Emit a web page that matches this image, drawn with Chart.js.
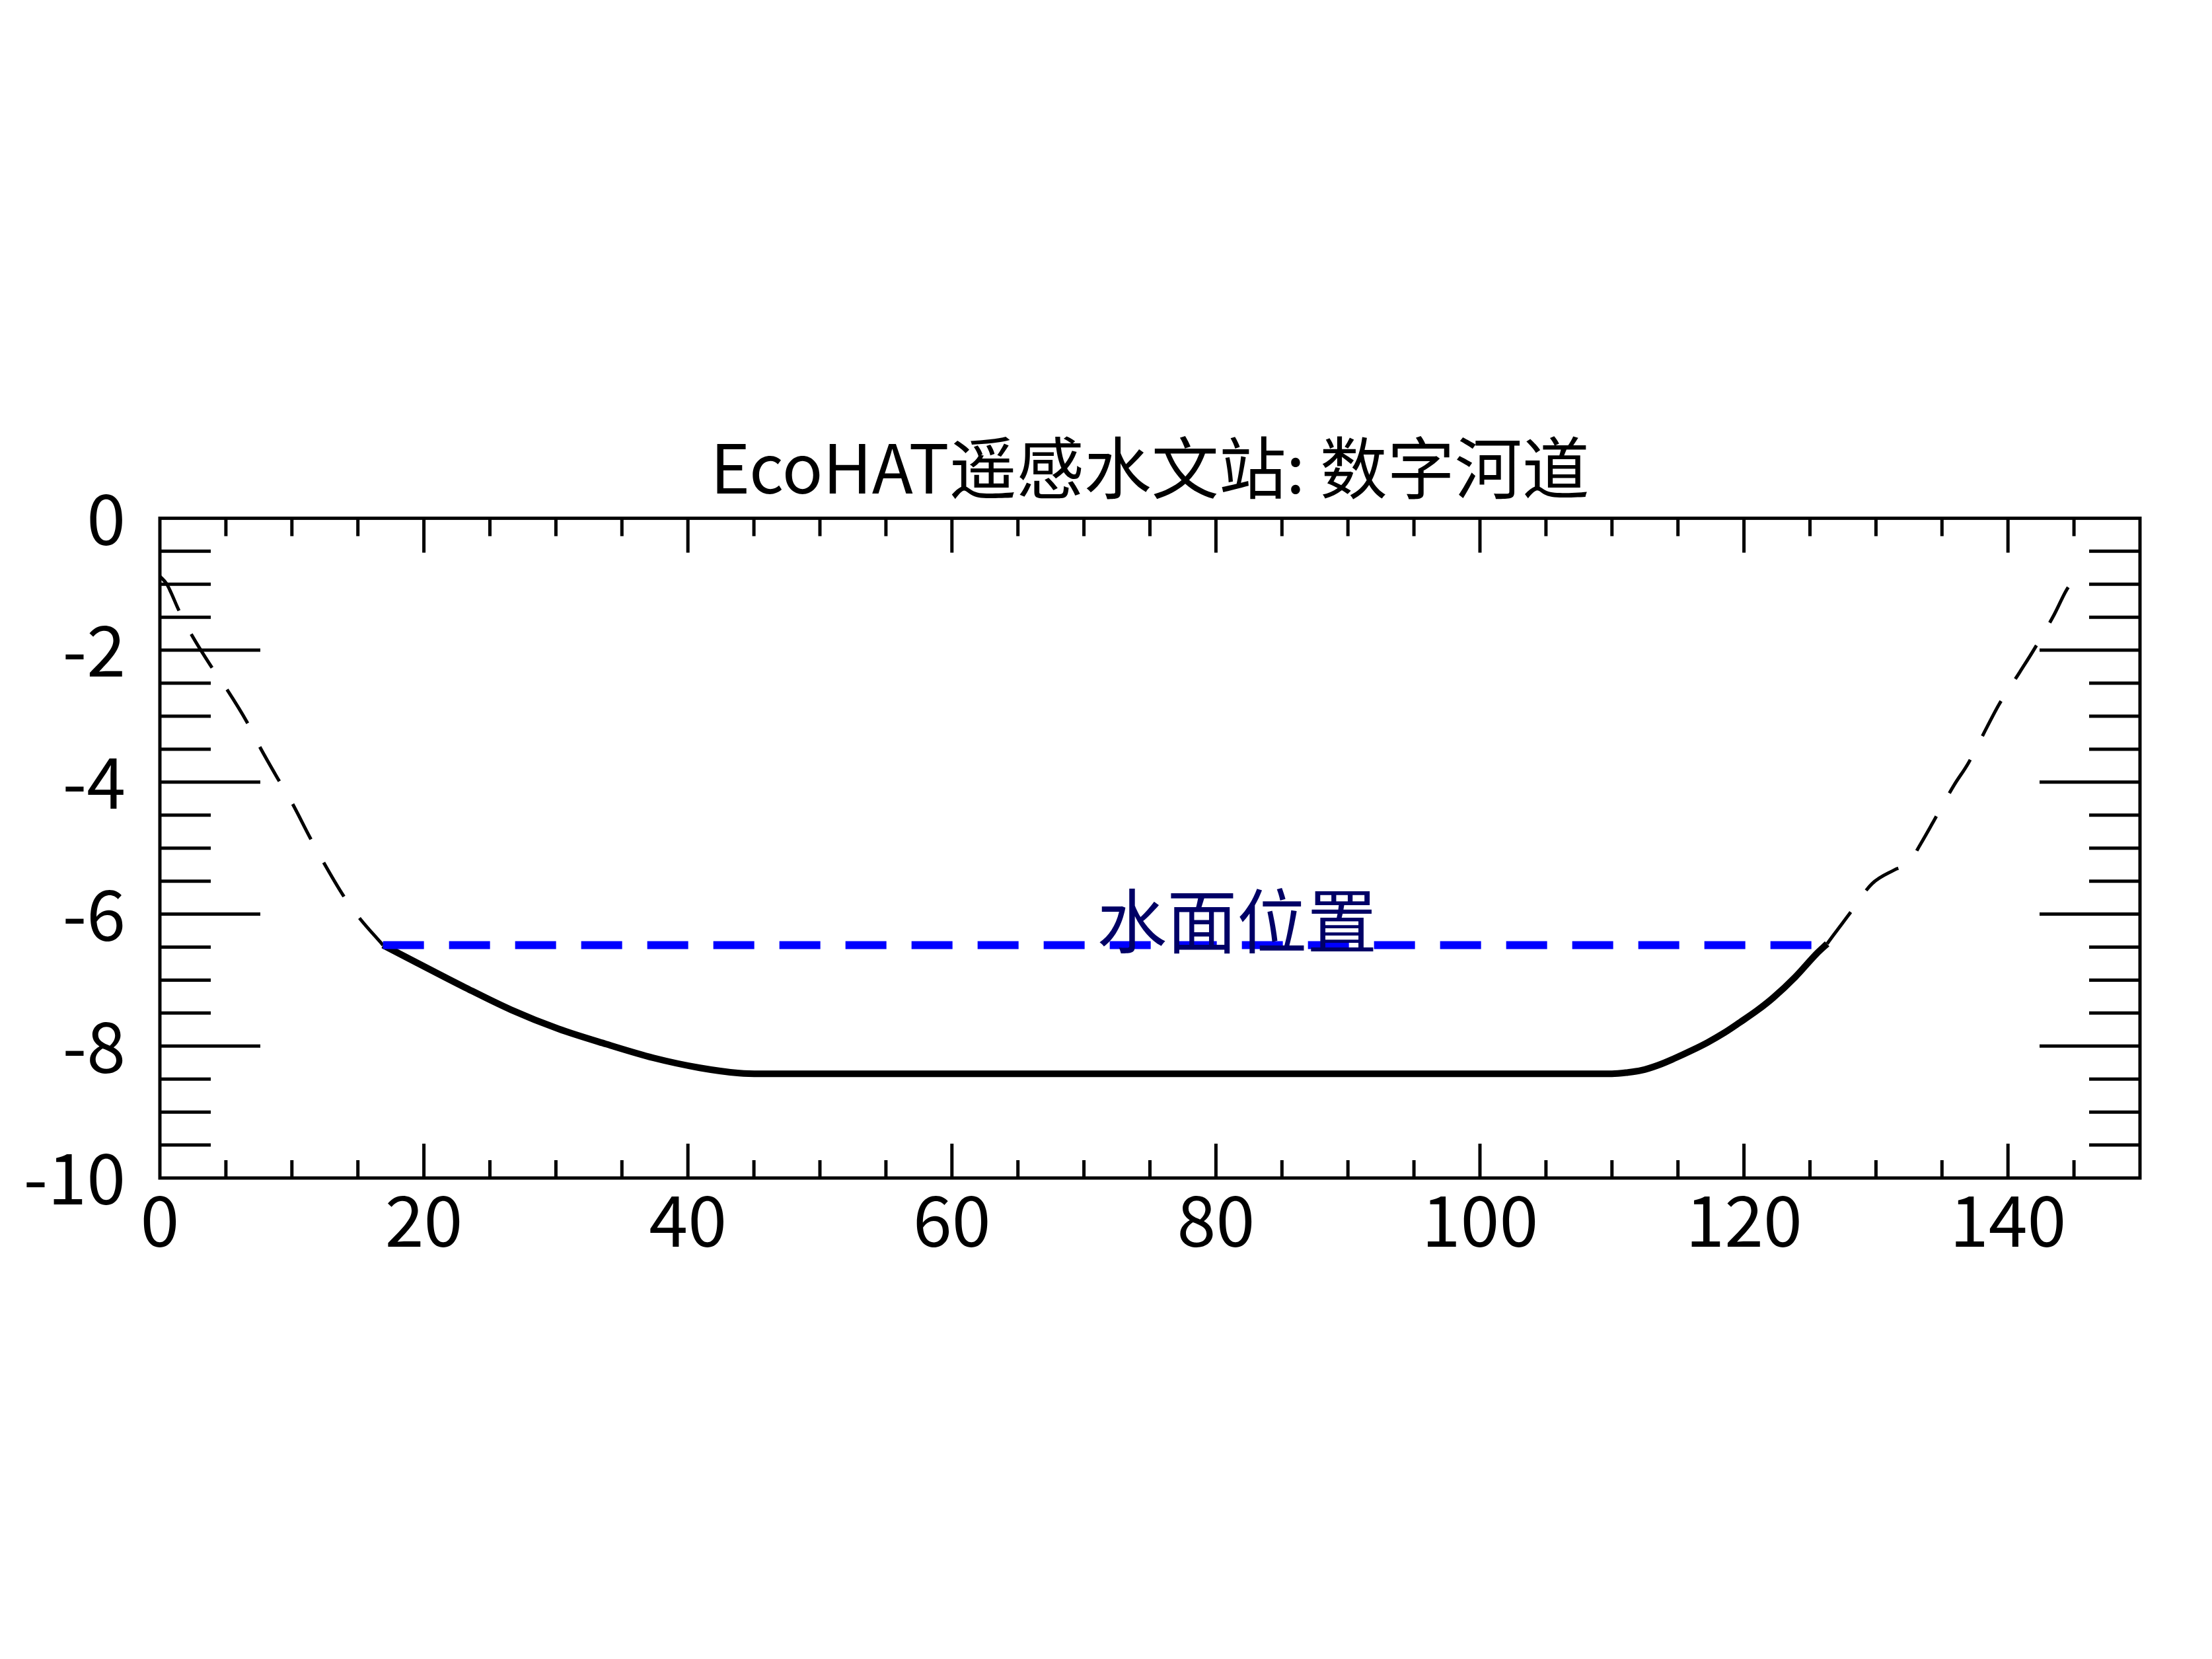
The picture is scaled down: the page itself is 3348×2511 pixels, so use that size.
<!DOCTYPE html>
<html>
<head>
<meta charset="utf-8">
<script src="https://cdn.jsdelivr.net/npm/chart.js@4.4.0/dist/chart.umd.min.js"></script>
<style>
  html, body { margin: 0; padding: 0; background: #fff; }
  canvas { display: block; }
</style>
</head>
<body>
<canvas id="profile" width="3348" height="2511"></canvas>
<script>
// 河道断面: 起点距 / 高程
const leftBankX = [0, 0.5, 0.85, 1.4, 2.3, 3.9, 5.0, 6.6, 7.5, 9.0, 10.0, 11.4, 12.3, 13.9, 15.0, 16.9];
const leftBankY = [-0.88, -0.99, -1.13, -1.38, -1.73, -2.25, -2.57, -3.09, -3.44, -3.97, -4.31, -4.85, -5.18, -5.72, -6.03, -6.47];

const channelX = [16.9, 19.5, 23.1, 26.6, 30.2, 33.8, 37.4, 40.9, 43.9, 45.5, 110.0, 111.2, 112.2, 113.5, 114.7, 116.0, 117.2, 118.5, 119.7, 121.0, 122.2, 123.9, 125.5, 126.3];
const channelY = [-6.47, -6.74, -7.11, -7.45, -7.74, -7.97, -8.18, -8.33, -8.41, -8.42, -8.42, -8.40, -8.37, -8.29, -8.19, -8.07, -7.95, -7.80, -7.64, -7.46, -7.27, -6.95, -6.60, -6.45];

const rightBankX = [126.3, 126.7, 127.9, 129.7, 131.4, 132.5, 133.4, 134.4, 135.9, 137.0, 138.4, 139.3, 140.9, 142.0, 143.5, 144.4, 145.2];
const rightBankY = [-6.45, -6.34, -6.02, -5.54, -5.33, -5.22, -4.93, -4.58, -4.05, -3.71, -3.17, -2.83, -2.33, -1.98, -1.46, -1.10, -0.86];

// 水面
const waterX = [16.9, 126.3];
const waterLevel = -6.47;
const waterLabel = '水面位置';
const waterLabelAt = [81.6, -6.1];

const titleText = 'EcoHAT遥感水文站: 数字河道';
const xTickLabels = [0, 20, 40, 60, 80, 100, 120, 140];
const yTickLabels = [0, -2, -4, -6, -8, -10];

function toPoints(xs, ys) {
  return xs.map((x, i) => ({ x: x, y: ys[i] }));
}

Chart.defaults.font.family = '"Noto Sans CJK SC", "Noto Sans", sans-serif';
Chart.defaults.color = '#000';

// 框线和内向刻度
const frameTicks = {
  id: 'frameTicks',
  beforeDatasetsDraw(chart) {
    const ctx = chart.ctx;
    const a = chart.chartArea;
    const xs = chart.scales.x, ys = chart.scales.y;
    ctx.save();
    ctx.strokeStyle = '#000';
    ctx.lineWidth = 5;
    ctx.beginPath();
    xs.ticks.forEach(t => {
      if (t.value <= xs.min || t.value >= xs.max) return;
      const px = xs.getPixelForValue(t.value);
      const len = xTickLabels.includes(t.value) ? 52 : 27;
      ctx.moveTo(px, a.bottom); ctx.lineTo(px, a.bottom - len);
      ctx.moveTo(px, a.top); ctx.lineTo(px, a.top + len);
    });
    ys.ticks.forEach(t => {
      if (t.value <= ys.min || t.value >= ys.max) return;
      const py = ys.getPixelForValue(t.value);
      const len = yTickLabels.includes(t.value) ? 152 : 77;
      ctx.moveTo(a.left, py); ctx.lineTo(a.left + len, py);
      ctx.moveTo(a.right, py); ctx.lineTo(a.right - len, py);
    });
    ctx.stroke();
    ctx.strokeRect(a.left, a.top, a.right - a.left, a.bottom - a.top);
    ctx.restore();
  },
  afterDatasetsDraw(chart) {
    const ctx = chart.ctx;
    const xs = chart.scales.x, ys = chart.scales.y;
    ctx.save();
    ctx.font = '106px "Noto Sans CJK SC", sans-serif';
    ctx.fillStyle = '#000066';
    ctx.textAlign = 'center';
    ctx.textBaseline = 'middle';
    ctx.fillText(waterLabel, xs.getPixelForValue(waterLabelAt[0]), ys.getPixelForValue(waterLabelAt[1]));
    ctx.restore();
  }
};

new Chart(document.getElementById('profile').getContext('2d'), {
  type: 'line',
  data: {
    datasets: [
      {
        label: '水面',
        data: toPoints(waterX, [waterLevel, waterLevel]),
        borderColor: '#0000ff',
        borderWidth: 12,
        borderDash: [62, 38],
        pointRadius: 0
      },
      {
        label: '水下断面',
        data: toPoints(channelX, channelY),
        borderColor: '#000',
        borderWidth: 10,
        cubicInterpolationMode: 'monotone',
        pointRadius: 0
      },
      {
        label: '左岸',
        data: toPoints(leftBankX, leftBankY),
        borderColor: '#000',
        borderWidth: 5,
        borderDash: [60, 40],
        cubicInterpolationMode: 'monotone',
        pointRadius: 0
      },
      {
        label: '右岸',
        data: toPoints(rightBankX, rightBankY),
        borderColor: '#000',
        borderWidth: 5,
        borderDash: [60, 40],
        cubicInterpolationMode: 'monotone',
        pointRadius: 0
      }
    ]
  },
  options: {
    responsive: false,
    animation: false,
    devicePixelRatio: 1,
    layout: { padding: { top: 645, right: 109, bottom: 0, left: 0 } },
    plugins: {
      legend: { display: false },
      tooltip: { enabled: false },
      title: {
        display: true,
        text: titleText,
        fullSize: false,
        color: '#000',
        font: { size: 102, weight: 'normal', lineHeight: 1.2 },
        padding: { top: 2, bottom: 15 }
      }
    },
    scales: {
      x: {
        type: 'linear',
        min: 0,
        max: 150,
        grid: { display: false, drawTicks: false },
        border: { display: false },
        ticks: {
          stepSize: 5,
          autoSkip: false,
          maxRotation: 0,
          padding: 0,
          font: { size: 106, lineHeight: 1.2 },
          callback: v => xTickLabels.includes(v) ? String(v) : ''
        },
        afterFit: s => { s.height = 728; }
      },
      y: {
        type: 'linear',
        min: -10,
        max: 0,
        grid: { display: false, drawTicks: false },
        border: { display: false },
        ticks: {
          stepSize: 0.5,
          autoSkip: false,
          padding: 52,
          font: { size: 106, lineHeight: 1.2 },
          callback: v => yTickLabels.includes(v) ? String(v) : ''
        },
        afterFit: s => { s.width = 242; }
      }
    }
  },
  plugins: [frameTicks]
});
</script>
</body>
</html>
